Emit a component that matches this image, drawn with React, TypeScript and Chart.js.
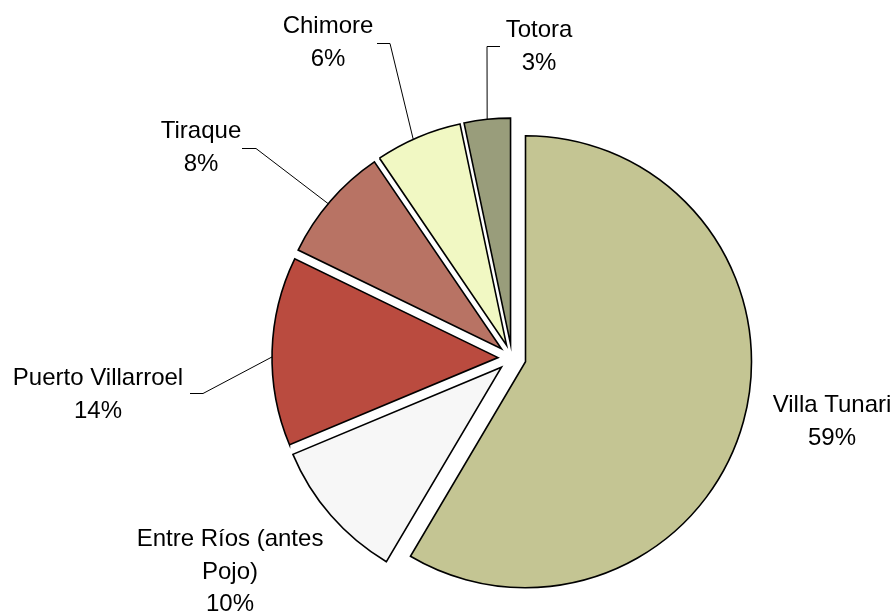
import React, { useEffect, useRef } from "react";
import { Chart, registerables } from "chart.js";

Chart.register(...registerables);

// ---- Data ----
const categories: string[] = [
  "Villa Tunari",
  "Entre Ríos (antes Pojo)",
  "Puerto Villarroel",
  "Tiraque",
  "Chimore",
  "Totora",
];
const shares: number[] = [58.5, 10.2, 13.5, 8.3, 6.2, 3.3];
const sliceColors: string[] = [
  "#C4C593",
  "#F7F7F7",
  "#BA4B3F",
  "#B87364",
  "#F1F8C3",
  "#999D7B",
];

// ---- Layout (text placement, not data) ----
const EXPLODE = 14;
const FONT = '24px "Liberation Sans", Arial, sans-serif';
const LINE_H = 32.5;
const WRAP_W = 200;
// label centre x and first baseline y; leader: [startX, kneeX, kneeY, fraction along slice arc]
const labelLayout: { cx: number; y: number; leader?: [number, number, number, number] }[] = [
  { cx: 832, y: 412 },
  { cx: 230, y: 546 },
  { cx: 98, y: 385, leader: [190, 203, 393, 0.47] },
  { cx: 201, y: 138, leader: [242, 256, 148, 0.47] },
  { cx: 328, y: 33, leader: [377, 390, 43, 0.44] },
  { cx: 539, y: 37, leader: [500, 487, 46, 0.5] },
];

function wrap(ctx: CanvasRenderingContext2D, text: string, maxW: number): string[] {
  const words = text.split(" ");
  const lines: string[] = [];
  let cur = "";
  for (const w of words) {
    const t = cur ? cur + " " + w : w;
    if (cur && ctx.measureText(t).width > maxW) {
      lines.push(cur);
      cur = w;
    } else cur = t;
  }
  if (cur) lines.push(cur);
  return lines;
}

const explodePlugin = {
  id: "explode",
  afterDatasetsUpdate(chart: any) {
    const meta = chart.getDatasetMeta(0);
    meta.data.forEach((arc: any) => {
      const mid = (arc.startAngle + arc.endAngle) / 2;
      arc.x += Math.cos(mid) * EXPLODE;
      arc.y += Math.sin(mid) * EXPLODE;
    });
  },
};

const labelPlugin = {
  id: "pieLabels",
  afterDraw(chart: any) {
    const ctx: CanvasRenderingContext2D = chart.ctx;
    const meta = chart.getDatasetMeta(0);
    const total = shares.reduce((a, b) => a + b, 0);
    ctx.save();
    ctx.font = FONT;
    ctx.fillStyle = "#000";
    ctx.textAlign = "center";
    ctx.textBaseline = "alphabetic";
    meta.data.forEach((arc: any, i: number) => {
      const lay = labelLayout[i];
      const pct = Math.round((shares[i] / total) * 100) + "%";
      const lines = [...wrap(ctx, categories[i], WRAP_W), pct];
      lines.forEach((ln, k) => ctx.fillText(ln, lay.cx, lay.y + k * LINE_H));
      if (lay.leader) {
        const [sx, kx, ky, frac] = lay.leader;
        const a = arc.startAngle + frac * (arc.endAngle - arc.startAngle);
        const ex = arc.x + Math.cos(a) * arc.outerRadius;
        const ey = arc.y + Math.sin(a) * arc.outerRadius;
        ctx.beginPath();
        ctx.strokeStyle = "#000";
        ctx.lineWidth = 1;
        ctx.moveTo(sx, ky + 0.5);
        ctx.lineTo(kx, ky + 0.5);
        ctx.lineTo(ex, ey);
        ctx.stroke();
      }
    });
    ctx.restore();
  },
};

export default function App() {
  const ref = useRef<HTMLCanvasElement | null>(null);
  useEffect(() => {
    if (!ref.current) return;
    const chart = new Chart(ref.current, {
      type: "pie",
      data: {
        labels: categories,
        datasets: [
          {
            data: shares,
            backgroundColor: sliceColors,
            borderColor: "#000",
            borderWidth: 1.6,
            borderJoinStyle: "miter",
            radius: 226,
          } as any,
        ],
      },
      options: {
        animation: false,
        responsive: false,
        events: [],
        radius: 226,
        layout: { padding: { left: 128, right: 0, top: 104, bottom: 0 } },
        plugins: {
          legend: { display: false },
          tooltip: { enabled: false },
        },
      } as any,
      plugins: [explodePlugin, labelPlugin],
    });
    return () => chart.destroy();
  }, []);
  return (
    <div style={{ position: "fixed", left: 0, top: 0, width: 896, height: 612, background: "#fff" }}>
      <canvas ref={ref} width={896} height={612} style={{ width: 896, height: 612 }} />
    </div>
  );
}
